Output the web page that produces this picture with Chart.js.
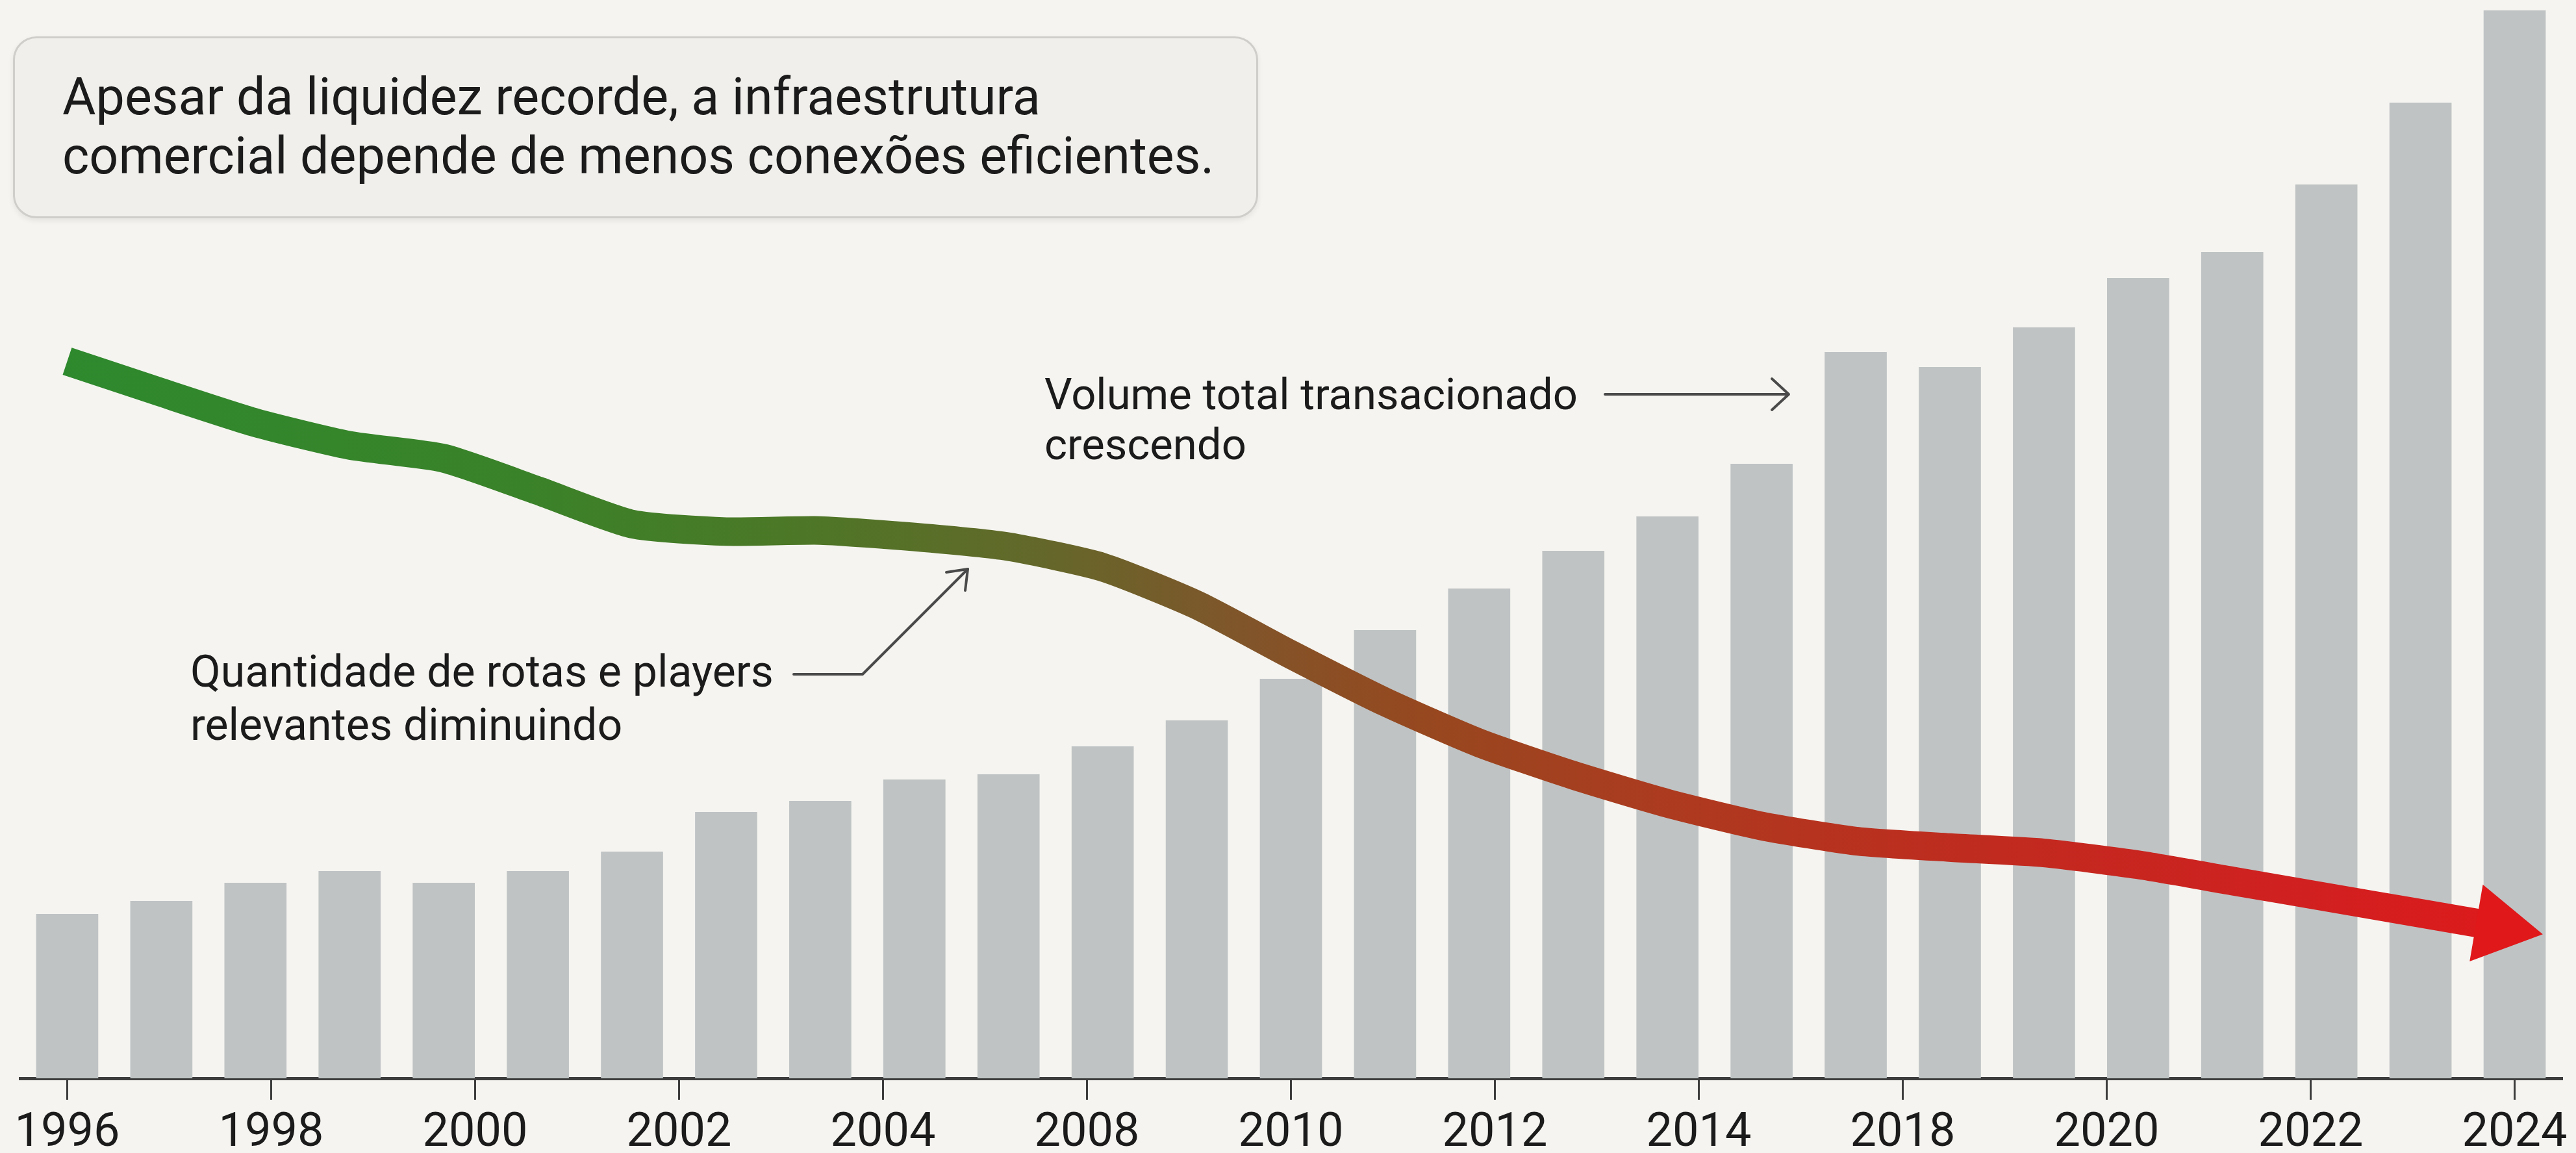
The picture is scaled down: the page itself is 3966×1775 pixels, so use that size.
<!DOCTYPE html>
<html lang="pt-BR">
<head>
<meta charset="utf-8">
<title>Volume x rotas</title>
<script src="https://cdn.jsdelivr.net/npm/chart.js@4.4.1/dist/chart.umd.min.js"></script>
<style>
  html, body { margin: 0; padding: 0; background: #f5f4f0; }
  #wrap { position: relative; width: 3966px; height: 1775px; overflow: hidden; }
  #chart { position: absolute; left: 0; top: 0; }
  .note { position: absolute; margin: 0; font-family: Roboto, "Liberation Sans", sans-serif; color: #1b1b1b; white-space: nowrap; }
  #titleBox { position: absolute; left: 20px; top: 56px; width: 1911px; height: 274px;
    border: 3px solid #cfcecb; border-radius: 36px; background: #f0efeb;
    box-shadow: 0 4px 8px rgba(0,0,0,0.07); }
  #titleBox .note { left: 73px; top: 45px; font-size: 79px; line-height: 91px; }
  #noteVolume { left: 1608px; top: 569px; font-size: 67px; line-height: 77px; }
  #noteRotas { left: 293px; top: 993px; font-size: 68px; line-height: 82px; }
</style>
</head>
<body>
<div id="wrap">
  <canvas id="chart"></canvas>
  <div id="titleBox">
    <p class="note">Apesar da liquidez recorde, a infraestrutura<br>comercial depende de menos conexões eficientes.</p>
  </div>
  <p class="note" id="noteVolume">Volume total transacionado<br>crescendo</p>
  <p class="note" id="noteRotas">Quantidade de rotas e players<br>relevantes diminuindo</p>
</div>
<script>
// 27 periods drawn as bars
const periods = ['1', '2', '3', '4', '5', '6', '7', '8', '9', '10', '11', '12', '13', '14',
  '15', '16', '17', '18', '19', '20', '21', '22', '23', '24', '25', '26', '27'];

// volume total transacionado (bars)
const volume = [25.3, 27.3, 30.1, 31.9, 30.1, 31.9, 34.9, 41.0, 42.7, 46.0, 46.8, 51.1, 55.1, 61.5,
  69.0, 75.4, 81.2, 86.5, 94.6, 111.8, 109.5, 115.6, 123.2, 127.2, 137.6, 150.2, 164.4];

// quantidade de rotas e players relevantes (line, index)
const rotas = [66.5, 63.6, 60.8, 58.7, 57.5, 54.5, 51.4, 50.7, 50.8, 50.2, 49.3, 47.4, 43.9, 39.3,
  34.9, 31.1, 28.1, 25.5, 23.4, 22.0, 21.4, 20.9, 19.8, 18.3, 16.8, 15.3, 13.8];

// labels shown under the axis
const tickYears = ['1996', '1998', '2000', '2002', '2004', '2008', '2010', '2012', '2014',
  '2018', '2020', '2022', '2024'];

function lineGradient(c, area) {
  const g = c.createLinearGradient(area.left, 0, area.right, 0);
  g.addColorStop(0, '#2d8a2e');
  g.addColorStop(0.2, '#3a8229');
  g.addColorStop(0.3, '#4b7826');
  g.addColorStop(0.4, '#63682a');
  g.addColorStop(0.48, '#80552a');
  g.addColorStop(0.55, '#96481f');
  g.addColorStop(0.65, '#ad3a1f');
  g.addColorStop(0.78, '#c12a1f');
  g.addColorStop(0.9, '#d12020');
  g.addColorStop(1, '#e0181a');
  return g;
}

// arrow head at the end of the line
const lineArrow = {
  id: 'lineArrow',
  afterDatasetsDraw(chart) {
    const pts = chart.getDatasetMeta(1).data;
    const a = pts[pts.length - 2], b = pts[pts.length - 1];
    let dx = b.x - a.x, dy = b.y - a.y;
    const len = Math.hypot(dx, dy);
    dx /= len; dy /= len;
    const tipX = b.x + dx * 44, tipY = b.y + dy * 44;
    const bx = b.x - dx * 60, by = b.y - dy * 60;
    const c = chart.ctx;
    c.save();
    c.fillStyle = '#e0181a';
    c.beginPath();
    c.moveTo(tipX, tipY);
    c.lineTo(bx - dy * 60, by + dx * 60);
    c.lineTo(bx + dy * 60, by - dx * 60);
    c.closePath();
    c.fill();
    c.restore();
  }
};

// thin pointers for the two notes
const notePointers = {
  id: 'notePointers',
  afterDraw(chart) {
    const c = chart.ctx;
    c.save();
    c.strokeStyle = '#4a4a4a';
    c.lineWidth = 4;
    c.lineCap = 'round';
    c.lineJoin = 'round';
    c.beginPath();
    c.moveTo(2471, 607); c.lineTo(2752, 607);
    c.stroke();
    c.beginPath();
    c.moveTo(2728, 583); c.lineTo(2754, 607); c.lineTo(2728, 631);
    c.stroke();
    c.beginPath();
    c.moveTo(1222, 1038); c.lineTo(1328, 1038); c.lineTo(1490, 876);
    c.stroke();
    c.beginPath();
    c.moveTo(1457, 881); c.lineTo(1490, 876); c.lineTo(1486, 909);
    c.stroke();
    c.restore();
  }
};

const ctx = document.getElementById('chart');
const myChart = new Chart(ctx, {
  data: {
    labels: periods,
    datasets: [{
      type: 'bar',
      label: 'Volume total transacionado',
      data: volume,
      backgroundColor: '#bfc3c4',
      barPercentage: 0.66,
      categoryPercentage: 1,
      yAxisID: 'y',
      order: 1
    }, {
      type: 'line',
      label: 'Quantidade de rotas e players',
      data: rotas,
      yAxisID: 'y2',
      borderColor: (context) => {
        const chart = context.chart;
        if (!chart.chartArea) return '#2d8a2e';
        return lineGradient(chart.ctx, chart.chartArea);
      },
      borderWidth: 44,
      borderCapStyle: 'butt',
      borderJoinStyle: 'round',
      tension: 0.2,
      pointRadius: 0,
      fill: false,
      clip: false,
      order: 0
    }]
  },
  plugins: [lineArrow, notePointers],
  options: {
    responsive: true,
    maintainAspectRatio: false,
    animation: false,
    layout: { padding: { left: 31, right: 22, top: 0, bottom: 0 } },
    plugins: {
      legend: { display: false },
      tooltip: { enabled: false }
    },
    scales: {
      x: { display: false, offset: true },
      x2: {
        type: 'linear',
        position: 'bottom',
        min: -6 / 26,
        max: 12 + 6 / 26,
        afterBuildTicks: (axis) => {
          axis.ticks = tickYears.map((_, k) => ({ value: k }));
        },
        afterFit: (axis) => { axis.height = 115; },
        grid: {
          drawOnChartArea: false,
          drawTicks: true,
          tickLength: 33,
          color: '#3d3d3d',
          lineWidth: 3
        },
        border: { display: true, color: '#3d3d3d', width: 5 },
        ticks: {
          autoSkip: false,
          maxRotation: 0,
          padding: 10,
          color: '#1b1b1b',
          font: { family: '"Liberation Sans Narrow", Roboto, sans-serif', size: 72 },
          callback: (value, index) => tickYears[index]
        }
      },
      y: { display: false, min: 0, max: 166 },
      y2: { display: false, min: 0, max: 100 }
    }
  }
});
</script>
</body>
</html>
